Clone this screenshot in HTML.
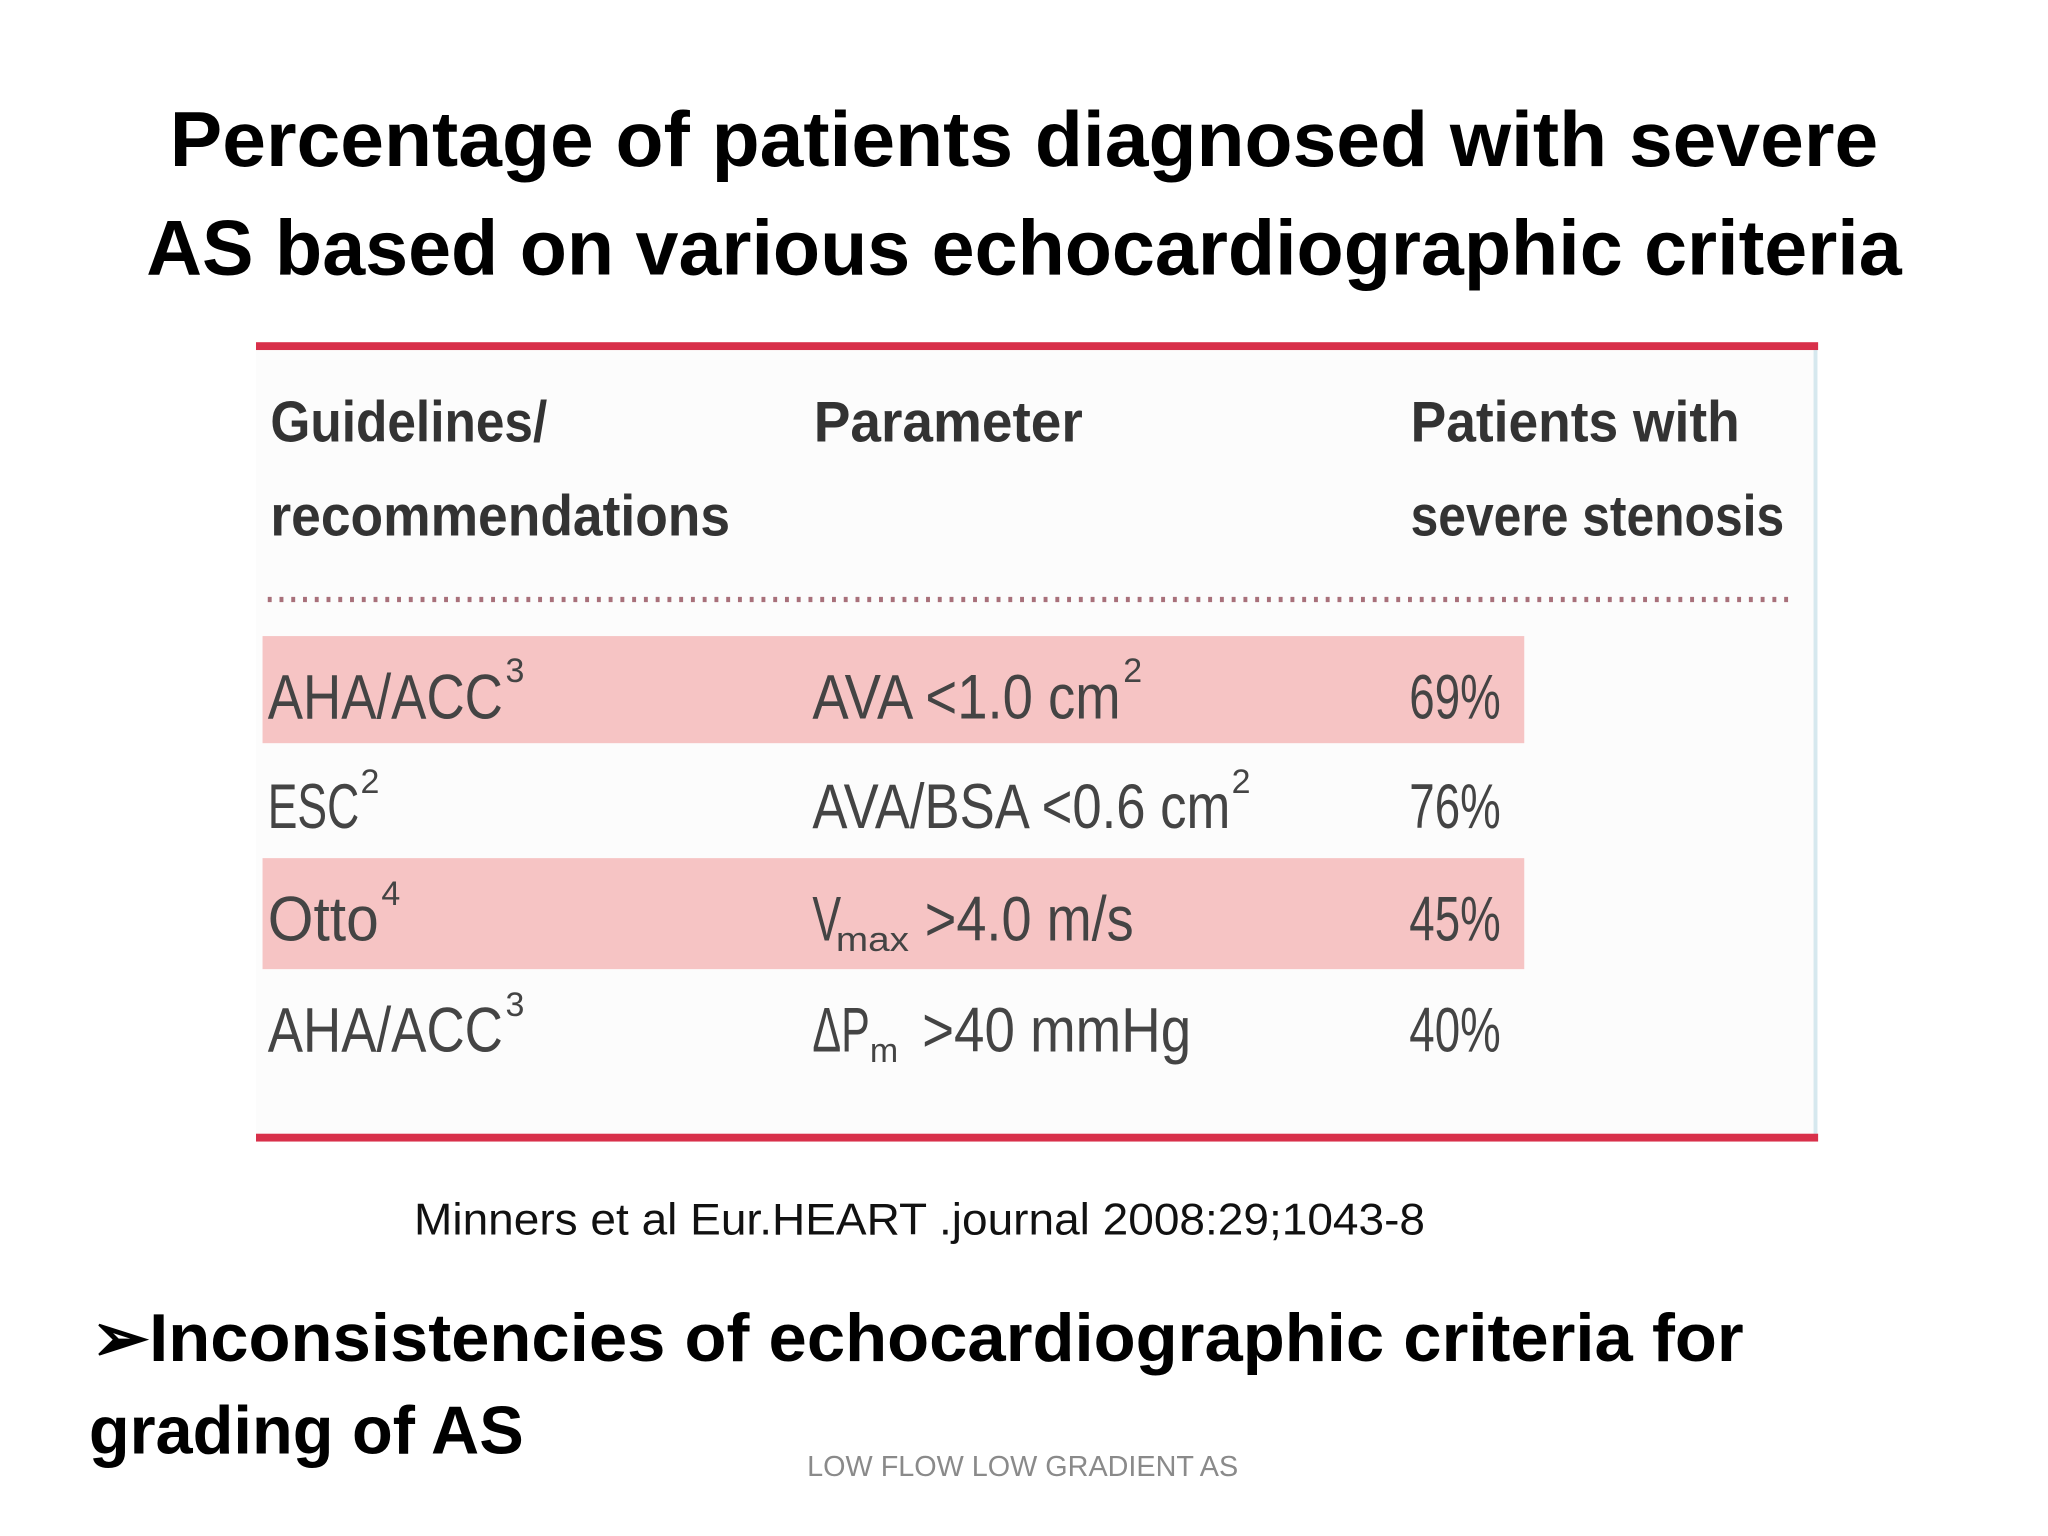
<!DOCTYPE html>
<html><head><meta charset="utf-8"><style>
html,body{margin:0;padding:0;background:#fff;}
svg{display:block;}
text{font-family:"Liberation Sans",sans-serif;}
.h{font-family:"Liberation Sans Narrow","Liberation Sans",sans-serif;font-weight:bold;fill:#333;font-size:44px;}
.c{font-family:"Liberation Sans Narrow","Liberation Sans",sans-serif;fill:#444;font-size:48px;}
.s{font-family:"Liberation Sans Narrow","Liberation Sans",sans-serif;fill:#444;font-size:26px;}
</style></head><body>
<svg width="2048" height="1536" viewBox="0 0 1568 1176" xmlns="http://www.w3.org/2000/svg">
<g>
<text x="784" y="127" text-anchor="middle" font-weight="bold" font-size="60" fill="#000" textLength="1308" lengthAdjust="spacingAndGlyphs">Percentage of patients diagnosed with severe</text>
<text x="784" y="210" text-anchor="middle" font-weight="bold" font-size="60" fill="#000" textLength="1344" lengthAdjust="spacingAndGlyphs">AS based on various echocardiographic criteria</text>
</g>
<g>
<rect x="196" y="265" width="1194" height="606" fill="#fcfcfc"/>
<line x1="1390" y1="265" x2="1390" y2="871" stroke="#d6e8ee" stroke-width="3"/>
<rect x="196" y="262" width="1196" height="6" fill="#d8304a"/>
<rect x="196" y="868" width="1196" height="6" fill="#d8304a"/>
<g>
<text class="h" x="207" y="338" textLength="212" lengthAdjust="spacingAndGlyphs">Guidelines/</text>
<text class="h" x="207" y="410" textLength="352" lengthAdjust="spacingAndGlyphs">recommendations</text>
<text class="h" x="623" y="338" textLength="206" lengthAdjust="spacingAndGlyphs">Parameter</text>
<text class="h" x="1080" y="338" textLength="252" lengthAdjust="spacingAndGlyphs">Patients with</text>
<text class="h" x="1080" y="410" textLength="286" lengthAdjust="spacingAndGlyphs">severe stenosis</text>
</g>
<line x1="205" y1="459" x2="1372" y2="459" stroke="#a8707a" stroke-width="4" stroke-dasharray="3,6"/>
<rect x="201" y="487" width="966" height="82" fill="#f6c4c4"/>
<rect x="201" y="657" width="966" height="85" fill="#f6c4c4"/>
<g>
<text class="c" x="205" y="550" textLength="180" lengthAdjust="spacingAndGlyphs">AHA/ACC</text><text class="s" x="387" y="522">3</text>
<text class="c" x="622" y="550" textLength="236" lengthAdjust="spacingAndGlyphs">AVA &lt;1.0 cm</text><text class="s" x="860" y="522">2</text>
<text class="c" x="1079" y="550" textLength="70" lengthAdjust="spacingAndGlyphs">69%</text>
</g>
<g>
<text class="c" x="205" y="634" textLength="70" lengthAdjust="spacingAndGlyphs">ESC</text><text class="s" x="276" y="607">2</text>
<text class="c" x="622" y="634" textLength="320" lengthAdjust="spacingAndGlyphs">AVA/BSA &lt;0.6 cm</text><text class="s" x="943" y="607">2</text>
<text class="c" x="1079" y="634" textLength="70" lengthAdjust="spacingAndGlyphs">76%</text>
</g>
<g>
<text class="c" x="205" y="720" textLength="85" lengthAdjust="spacingAndGlyphs">Otto</text><text class="s" x="292" y="693">4</text>
<text class="c" x="622" y="720" textLength="22" lengthAdjust="spacingAndGlyphs">V</text><text class="s" x="640" y="728" textLength="56" lengthAdjust="spacingAndGlyphs">max</text>
<text class="c" x="708" y="720" textLength="160" lengthAdjust="spacingAndGlyphs">&gt;4.0 m/s</text>
<text class="c" x="1079" y="720" textLength="70" lengthAdjust="spacingAndGlyphs">45%</text>
</g>
<g>
<text class="c" x="205" y="805" textLength="180" lengthAdjust="spacingAndGlyphs">AHA/ACC</text><text class="s" x="387" y="778">3</text>
<text class="c" x="622" y="805" textLength="44" lengthAdjust="spacingAndGlyphs">ΔP</text><text class="s" x="666" y="813">m</text>
<text class="c" x="706" y="805" textLength="206" lengthAdjust="spacingAndGlyphs">&gt;40 mmHg</text>
<text class="c" x="1079" y="805" textLength="70" lengthAdjust="spacingAndGlyphs">40%</text>
</g>
</g>
<text x="317" y="945" font-size="34" fill="#111" textLength="774" lengthAdjust="spacingAndGlyphs">Minners et al Eur.HEART .journal 2008:29;1043-8</text>
<g>
<text x="70" y="1042" font-size="52" font-weight="bold" fill="#000" textLength="1265" lengthAdjust="spacingAndGlyphs">➢Inconsistencies of echocardiographic  criteria for</text>
<text x="68" y="1113" font-size="52" font-weight="bold" fill="#000" textLength="333" lengthAdjust="spacingAndGlyphs">grading of AS</text>
</g>
<text x="783" y="1130" text-anchor="middle" font-size="22" fill="#8a8a8a" textLength="330" lengthAdjust="spacingAndGlyphs">LOW FLOW LOW GRADIENT  AS</text>
</svg>
</body></html>
